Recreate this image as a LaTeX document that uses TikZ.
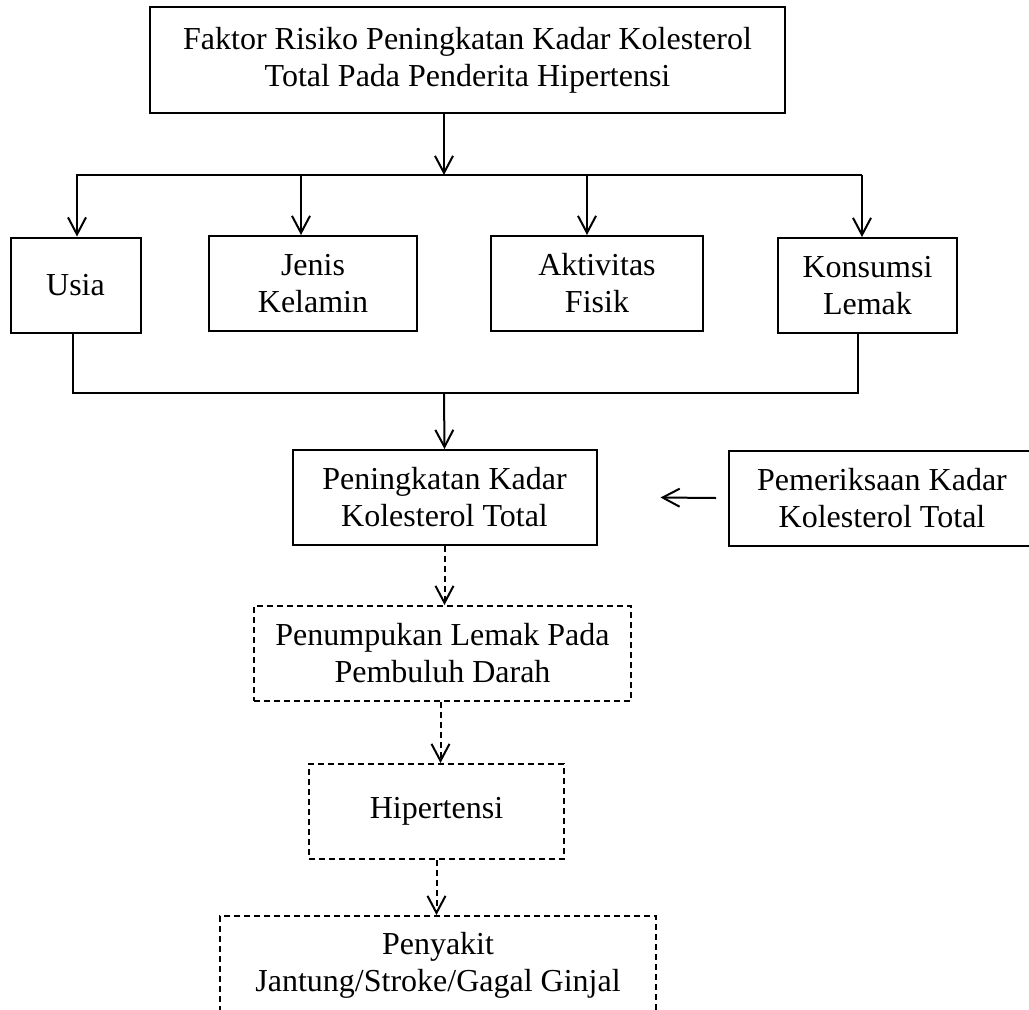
\documentclass[tikz,border=0pt]{standalone}
\usepackage{fontspec}
\setmainfont{Liberation Serif}
\usetikzlibrary{arrows.meta}
\newcommand{\h}{95pt}

\begin{document}
\begin{tikzpicture}[x=1pt,y=-1pt,
    box/.style={draw, rectangle, line width=2pt, minimum height=\h, align=center, inner sep=0pt, font=\fontsize{32}{37}\selectfont},
    dbox/.style={box, dash pattern=on 6pt off 4pt},
    arr/.style={-{Straight Barb[length=17pt,width=18pt]}, line width=2pt},
    darr/.style={arr, dash pattern=on 6pt off 4pt},
    wire/.style={line width=2pt}]
    \clip (0,0) rectangle (1029,1010);

    % Top
    \node[box, minimum width=635pt, minimum height=106pt] (faktor) at (467.5,60) {Faktor Risiko Peningkatan Kadar Kolesterol\\Total Pada Penderita Hipertensi};

    % Factors
    \node[box, minimum width=130pt] (usia) at (75.5,285) {Usia};
    \node[box, minimum width=208pt] (jenis) at (313,283.5) {Jenis\\Kelamin};
    \node[box, minimum width=212pt] (aktivitas) at (597,283.5) {Aktivitas\\Fisik};
    \node[box, minimum width=179pt] (konsumsi) at (867.5,285.5) {Konsumsi\\Lemak};

    % Middle row
    \node[box, minimum width=304pt] (peningkatan) at (444.5,497.5) {Peningkatan Kadar\\Kolesterol Total};
    \node[box, minimum width=306pt] (pemeriksaan) at (882,498) {Pemeriksaan Kadar\\Kolesterol Total};

    % Effects
    \node[dbox, minimum width=377pt] (penumpukan) at (442.5,653.5) {Penumpukan Lemak Pada\\Pembuluh Darah};
    \node[dbox, minimum width=255pt] (hipertensi) at (436.5,811.5) {Hipertensi};
    \node[dbox, minimum width=436pt, minimum height=98pt] (penyakit) at (438,965) {Penyakit\\Jantung/Stroke/Gagal Ginjal};

    % Split to factors
    \coordinate (split) at (444,175);
    \coordinate (b1) at (77,175);
    \coordinate (b2) at (301,175);
    \coordinate (b3) at (587,175);
    \coordinate (b4) at (862,175);
    \draw[arr] (faktor.south -| split) -- (split);
    \draw[wire] (76,175) -- (b4);
    \draw[arr] (b1) -- (b1 |- usia.north);
    \draw[arr] (b2) -- (b2 |- jenis.north);
    \draw[arr] (b3) -- (b3 |- aktivitas.north);
    \draw[arr] (b4) -- (b4 |- konsumsi.north);

    % Join
    \coordinate (j1) at (73,393);
    \coordinate (j2) at (858,393);
    \coordinate (join) at (444,393);
    \draw[wire] ([yshift=2pt]usia.south -| j1) -- (j1) -- (j2) -- ([yshift=2pt]konsumsi.south -| j2);
    \draw[arr] (join) -- (peningkatan.north);
    \draw[arr] ([xshift=-12pt]pemeriksaan.west) -- ([xshift=63pt]peningkatan.east);

    % Chain
    \draw[darr] (peningkatan.south) -- (peningkatan.south |- penumpukan.north);
    \draw[darr] ([xshift=-2pt]penumpukan.south) -- ([xshift=-2pt]penumpukan.south |- hipertensi.north);
    \draw[darr] (hipertensi.south) -- (hipertensi.south |- penyakit.north);
\end{tikzpicture}
\end{document}
